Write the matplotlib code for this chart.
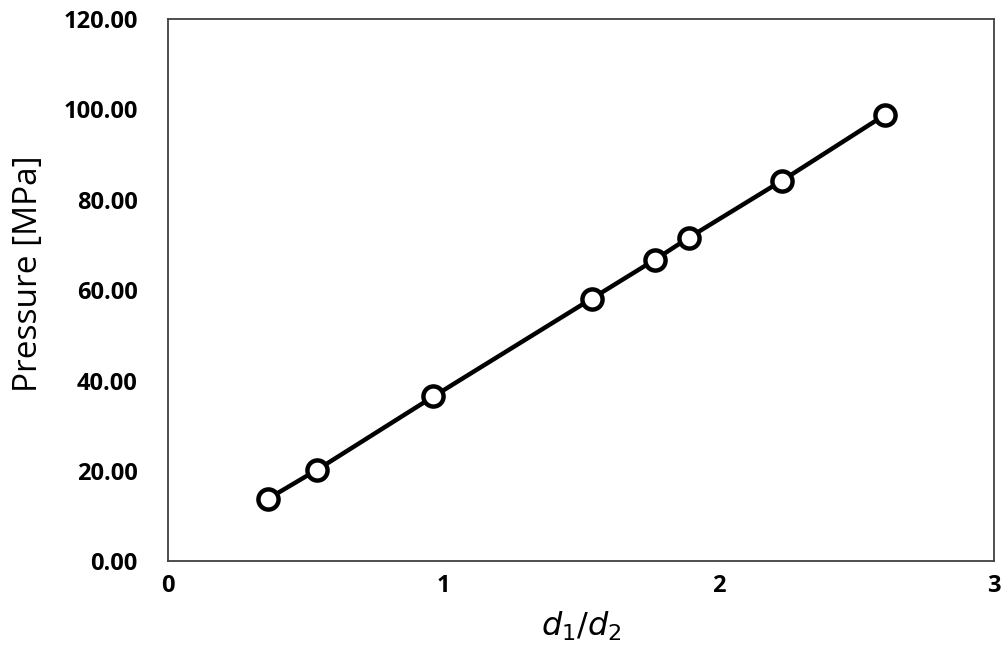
import matplotlib
matplotlib.use("Agg")
import matplotlib.pyplot as plt

# d1/d2 ratio vs. pressure
ratio = [0.364, 0.542, 0.964, 1.538, 1.767, 1.891, 2.229, 2.604]
pressure = [13.9, 20.3, 36.5, 58.1, 66.7, 71.6, 84.2, 98.8]

x_ticks = [0, 1, 2, 3]
y_ticks = [0, 20, 40, 60, 80, 100, 120]


def make_figure():
    plt.rcParams['font.family'] = ['Open Sans', 'DejaVu Sans']
    fig = plt.figure(figsize=(10.05, 6.67), dpi=100)
    ax = fig.add_axes([0.1672, 0.1582, 0.8219, 0.8134])

    ax.plot(ratio, pressure, color='black', linewidth=3.2,
            marker='o', markersize=14.5, markerfacecolor='white',
            markeredgecolor='black', markeredgewidth=3.2, zorder=3)

    ax.set_xlim(0, 3)
    ax.set_ylim(0, 120)
    ax.set_xticks(x_ticks)
    ax.set_yticks(y_ticks)
    ax.set_xticklabels([str(t) for t in x_ticks], fontsize=17, fontweight='bold')
    ax.set_yticklabels(['%.2f' % t for t in y_ticks], fontsize=17, fontweight='bold')
    ax.tick_params(axis='y', length=0, pad=22)
    ax.tick_params(axis='x', length=0, pad=9)

    for side in ax.spines.values():
        side.set_color('#404040')
        side.set_linewidth(1.3)

    ax.set_ylabel('Pressure [MPa]', fontsize=24)
    ax.yaxis.set_label_coords(-0.149, 0.53)
    ax.set_xlabel(r'$\mathit{d_1/d_2}$', fontsize=23, labelpad=9)

    fig.savefig('out.png', dpi=100)


def main():
    make_figure()


if __name__ == "__main__":
    main()
